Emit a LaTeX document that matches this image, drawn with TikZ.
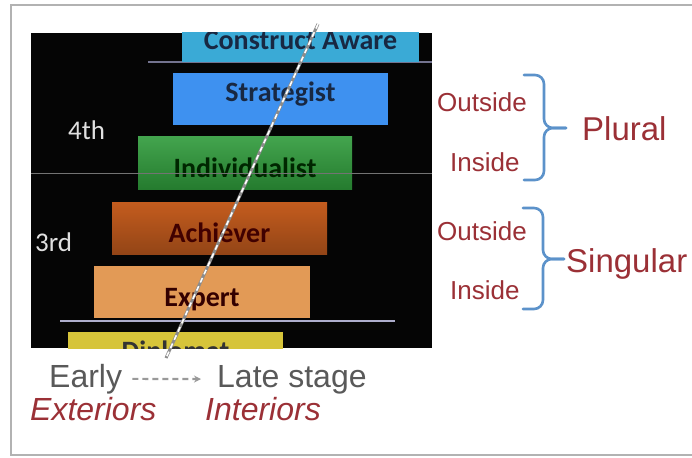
\documentclass[tikz,border=0pt]{standalone}
\usepackage{fontspec}
\setmainfont{Liberation Sans}
\newfontfamily\stagefont{Carlito}
\usetikzlibrary{arrows.meta}

\definecolor{stagetext}{RGB}{24,40,66}
\definecolor{labelred}{RGB}{155,48,54}
\definecolor{braceblue}{RGB}{92,146,202}
\definecolor{awarecyan}{RGB}{58,170,214}
\definecolor{stratblue}{RGB}{62,145,240}
\definecolor{indgreen}{RGB}{46,154,58}
\definecolor{achorange}{RGB}{196,92,30}
\definecolor{expertsand}{RGB}{226,154,86}
\definecolor{diplyellow}{RGB}{214,196,58}

\tikzstyle{stage}=[rectangle, inner sep=0pt, text=stagetext,
    minimum height=52pt, text height=28pt, text depth=0pt,
    font={\stagefont\bfseries\fontsize{28}{30}\selectfont}]
\tikzstyle{level}=[anchor=base west, inner sep=0pt, text=white!88!black,
    font={\stagefont\fontsize{27}{30}\selectfont}]

\begin{document}
\begin{tikzpicture}[x=1pt, y=-1pt,
    side/.style={anchor=base west, inner sep=0pt, text=labelred, font={\fontsize{26}{30}\selectfont}},
    group/.style={anchor=base west, inner sep=0pt, text=labelred, font={\fontsize{33}{36}\selectfont}},
    stagetxt/.style={anchor=base west, inner sep=0pt, font={\fontsize{32}{36}\selectfont}},
    bracket/.style={draw=braceblue, line width=2.6pt, line cap=round, rounded corners=9pt}]
	\useasboundingbox (0,0) rectangle (692,457);
	\fill[white] (0,0) rectangle (692,457);
	\draw[black!30, line width=1.4pt] (692,5) -- (11,5) -- (11,455) -- (692,455);

	% Stage panel
	\fill[black!98] (31,33) rectangle (432,348);
	\begin{scope}
		\clip (31,33) rectangle (432,348);
		\draw[blue!20!black!55, line width=2pt] (148,62) -- (432,62);
		\node (aware) [stage, fill=awarecyan, minimum width=237pt] at (300.5,36) {Construct Aware};
		\node (strat) [stage, fill=stratblue, minimum width=215pt, text depth=23pt] at (280.5,99.5) {Strategist};
		\node (indiv) [stage, text=green!15!black, top color=indgreen!90!white, bottom color=indgreen!80!black, minimum width=214pt] at (245,163) {Individualist};
		\node (achie) [stage, text=black!75!red, top color=achorange, bottom color=achorange!75!black, minimum width=215pt] at (219.5,228) {Achiever};
		\node (exper) [stage, text=black!80!red, fill=expertsand, minimum width=216pt] at (202,292) {Expert};
		\node (diplo) [stage, text=black!80, fill=diplyellow, minimum width=215pt, text depth=24pt] at (175.5,358) {Diplomat};
		\draw[black!55, line width=0.8pt] (31,173) -- (432,173);
		\draw[blue!15!white!80!black, line width=2.6pt] (60,321) -- (395,321);
	\end{scope}
	\node (fourth) [level] at (68,140) {4th};
	\node (third) [level] at (35,251) {3rd};

	% Trend line
	\coordinate (trend top) at (318,24);
	\coordinate (trend bot) at (166,358);
	\draw[black!45, line width=3pt] (trend top) -- (trend bot);
	\draw[white, line width=1.6pt, dash pattern=on 5pt off 4pt] (trend top) -- (trend bot);

	% Bottom captions
	\node (early) [stagetxt, text=black!65] at (49,387) {Early};
	\node (late) [stagetxt, text=black!65] at (217,387) {Late stage};
	\node (ext) [stagetxt, text=labelred, font={\fontsize{32}{36}\selectfont\itshape}] at (30,420) {Exteriors};
	\node (int) [stagetxt, text=labelred, font={\fontsize{32}{36}\selectfont\itshape}] at (205,420) {Interiors};
	\draw[black!40, line width=2.2pt, dash pattern=on 6pt off 4pt, -{Stealth[length=7pt,width=7pt]}, shorten <=10pt, shorten >=16pt] (early) -- (late);

	% Right labels
	\node (out1) [side] at (437,112) {Outside};
	\node (in1) [side] at (450,171) {Inside};
	\node (out2) [side] at (437,240) {Outside};
	\node (in2) [side] at (450,299) {Inside};
	\node (plural) [group] at (582,141) {Plural};
	\node (single) [group] at (566,272) {Singular};

	% Braces
	\coordinate (pl a) at (524,75);
	\coordinate (pl b) at (524,180);
	\coordinate (pl tip) at (566,128);
	\coordinate (sg a) at (523,208);
	\coordinate (sg b) at (523,309);
	\coordinate (sg tip) at (564,259);
	\draw[bracket] (pl a) -- ++(20,0) |- (pl tip);
	\draw[bracket] (pl b) -- ++(20,0) |- (pl tip);
	\draw[bracket] (sg a) -- ++(20,0) |- (sg tip);
	\draw[bracket] (sg b) -- ++(20,0) |- (sg tip);
\end{tikzpicture}
\end{document}
